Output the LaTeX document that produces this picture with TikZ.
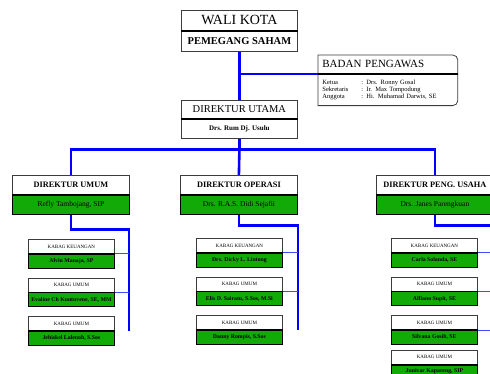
\documentclass[tikz,border=0pt]{standalone}
\usepackage{fontspec}
\setmainfont{Liberation Serif}
\usetikzlibrary{positioning}
\definecolor{mygreen}{RGB}{18,170,6}
\definecolor{myblue}{RGB}{0,0,255}
\definecolor{mylblue}{RGB}{70,70,255}
\definecolor{mygray}{RGB}{60,60,60}
\tikzset{
  hdrbox/.style={rectangle, draw=mygray, fill=white, inner sep=0pt,
    line width=0.8pt, anchor=north west},
  topbox/.style={hdrbox, minimum width=116pt, minimum height=20pt},
  dirbox/.style={hdrbox, minimum width=117pt, minimum height=19pt,
    font=\fontsize{8.3}{9}\selectfont\bfseries},
  dirname/.style={dirbox, fill=mygreen, draw=black,
    font=\fontsize{7.5}{8}\selectfont},
  kabbox/.style={hdrbox, minimum width=86pt, minimum height=14pt,
    font=\fontsize{5}{6}\selectfont},
  kabname/.style={kabbox, fill=mygreen, draw=black,
    font=\fontsize{5.8}{6}\selectfont\bfseries},
  bus/.style={draw=myblue, line width=2.6pt},
  branch/.style={draw=mylblue, line width=1pt},
  splitline/.style={draw=black, line width=1.6pt}
}
\begin{document}
\begin{tikzpicture}[x=1pt, y=-1pt]
  \useasboundingbox (0,0) rectangle (490,373);
  \clip (0,0) rectangle (490,373);

  % pemilik dan pengawas
  \node[topbox, font=\fontsize{14}{16}\selectfont] (wali) at (181,10) {WALI KOTA};
  \node[topbox, below=0pt of wali, font=\fontsize{10.5}{12}\selectfont\bfseries] (walin) {PEMEGANG SAHAM};
  \node[hdrbox, draw=none, minimum width=139pt, minimum height=18pt, text width=131pt,
    align=left, font=\fontsize{11}{12}\selectfont] (badan) at (318,55) {BADAN PENGAWAS};
  \node[hdrbox, draw=none, below=0pt of badan, minimum width=139pt, minimum height=31pt,
    text width=131pt, align=left, font=\fontsize{6.5}{7}\selectfont] (badanisi)
    {\begin{tabular}{@{}p{39pt}@{}l@{}}
      Ketua & : Drs. Ronny Gosal\\
      Sekretaris & : Ir. Max Tompodung\\
      Anggota & : Hi. Muhamad Darwis, SE
    \end{tabular}};
  \draw[draw=mygray, line width=0.8pt] (badan.north west) [rounded corners=5pt] -- (badan.north east)
    -- (badanisi.south east) [sharp corners] -- (badanisi.south west) -- cycle;

  % direksi
  \node[topbox, minimum height=18pt, font=\fontsize{10.5}{12}\selectfont] (utama) at (181,100) {DIREKTUR UTAMA};
  \node[topbox, minimum height=19pt, below=0pt of utama, font=\fontsize{7}{8}\selectfont\bfseries] (utaman) {Drs. Rum Dj. Usulu};

  \node[dirbox] (dumum) at (12,175) {DIREKTUR UMUM};
  \node[dirname, below=0pt of dumum] (dumumn) {Refly Tambojang, SIP};
  \node[dirbox] (doper) at (180,175) {DIREKTUR OPERASI};
  \node[dirname, below=0pt of doper] (dopern) {Drs. R.A.S. Didi Sejafii};
  \node[dirbox] (dpeng) at (376,175) {DIREKTUR PENG. USAHA};
  \node[dirname, below=0pt of dpeng] (dpengn) {Drs. Janes Parengkuan};

  % kabag umum
  \node[kabbox] (ku1) at (28,239) {KABAG KEUANGAN};
  \node[kabname, below=0pt of ku1] (ku1n) {Alvin Manaja, SP};
  \node[kabbox, below=9pt of ku1n] (ku2) {KABAG UMUM};
  \node[kabname, below=0pt of ku2] (ku2n) {Evaline Ch Kuntuvene, SE, MM};
  \node[kabbox, below=9pt of ku2n] (ku3) {KABAG UMUM};
  \node[kabname, below=0pt of ku3] (ku3n) {Jehiskel Lalenoh, S.Sos};

  % kabag operasi
  \node[kabbox] (ko1) at (196,238) {KABAG KEUANGAN};
  \node[kabname, below=0pt of ko1] (ko1n) {Drs. Dicky L. Lintong};
  \node[kabbox, below=9pt of ko1n] (ko2) {KABAG UMUM};
  \node[kabname, below=0pt of ko2] (ko2n) {Elis D. Sairatu, S.Sos, M.Si};
  \node[kabbox, below=9pt of ko2n] (ko3) {KABAG UMUM};
  \node[kabname, below=0pt of ko3] (ko3n) {Danny Rompis, S.Sos};

  % kabag peng. usaha
  \node[kabbox] (kp1) at (391,238) {KABAG KEUANGAN};
  \node[kabname, below=0pt of kp1] (kp1n) {Carla Solanda, SE};
  \node[kabbox, below=9pt of kp1n] (kp2) {KABAG UMUM};
  \node[kabname, below=0pt of kp2] (kp2n) {Alfiano Supit, SE};
  \node[kabbox, below=9pt of kp2n] (kp3) {KABAG UMUM};
  \node[kabname, below=0pt of kp3] (kp3n) {Silvana Gosih, SE};
  \node[kabbox, below=5pt of kp3n] (kp4) {KABAG UMUM};
  \node[kabname, minimum height=13pt, below=0pt of kp4] (kp4n) {Junivar Kapareng, SIP};

  % garis pemisah
  \draw[splitline] (wali.south west) -- (wali.south east);
  \draw[splitline] (badan.south west) -- (badan.south east);
  \draw[splitline] (utama.south west) -- (utama.south east);
  \draw[splitline] (dumum.south west) -- (dumum.south east);
  \draw[splitline] (doper.south west) -- (doper.south east);
  \draw[splitline] (dpeng.south west) -- (dpeng.south east);
  \draw[splitline] (ku1.south west) -- (ku1.south east);
  \draw[splitline] (ku2.south west) -- (ku2.south east);
  \draw[splitline] (ku3.south west) -- (ku3.south east);
  \draw[splitline] (ko1.south west) -- (ko1.south east);
  \draw[splitline] (ko2.south west) -- (ko2.south east);
  \draw[splitline] (ko3.south west) -- (ko3.south east);
  \draw[splitline] (kp1.south west) -- (kp1.south east);
  \draw[splitline] (kp2.south west) -- (kp2.south east);
  \draw[splitline] (kp3.south west) -- (kp3.south east);
  \draw[splitline] (kp4.south west) -- (kp4.south east);

  % garis komando
  \draw[bus] (walin.south) -- (utama.north);
  \draw[bus] (badan.south west) -- (badan.south west -| walin.south);
  \draw[bus] (utaman.south) -- ++(0,11) coordinate (busdir);
  \draw[bus] (dumum.north) |- (busdir) -| (dpeng.north);
  \draw[bus] (busdir) -- (doper.north);

  \coordinate (umbus) at ([xshift=14pt]ku3.south east);
  \draw[bus] (dumumn.south) -- ++(0,15) -| (umbus);
  \draw[branch] (ku1.south east) -- (ku1.south east -| umbus);
  \draw[branch] (ku2.south east) -- (ku2.south east -| umbus);

  \coordinate (opbus) at ([xshift=15pt]ko3.south east);
  \draw[bus] (dopern.south) -- ++(0,11) -| (opbus);
  \draw[branch] (ko1.south east) -- (ko1.south east -| opbus);
  \draw[branch] (ko2.south east) -- (ko2.south east -| opbus);

  \coordinate (pgbus) at ([xshift=20pt]kp4.south east);
  \draw[bus] (dpengn.south) -- ++(0,11) -| (pgbus);
  \draw[branch] (kp1.south east) -- (kp1.south east -| pgbus);
  \draw[branch] (kp2.south east) -- (kp2.south east -| pgbus);
  \draw[branch] (kp3.south east) -- (kp3.south east -| pgbus);
\end{tikzpicture}
\end{document}
